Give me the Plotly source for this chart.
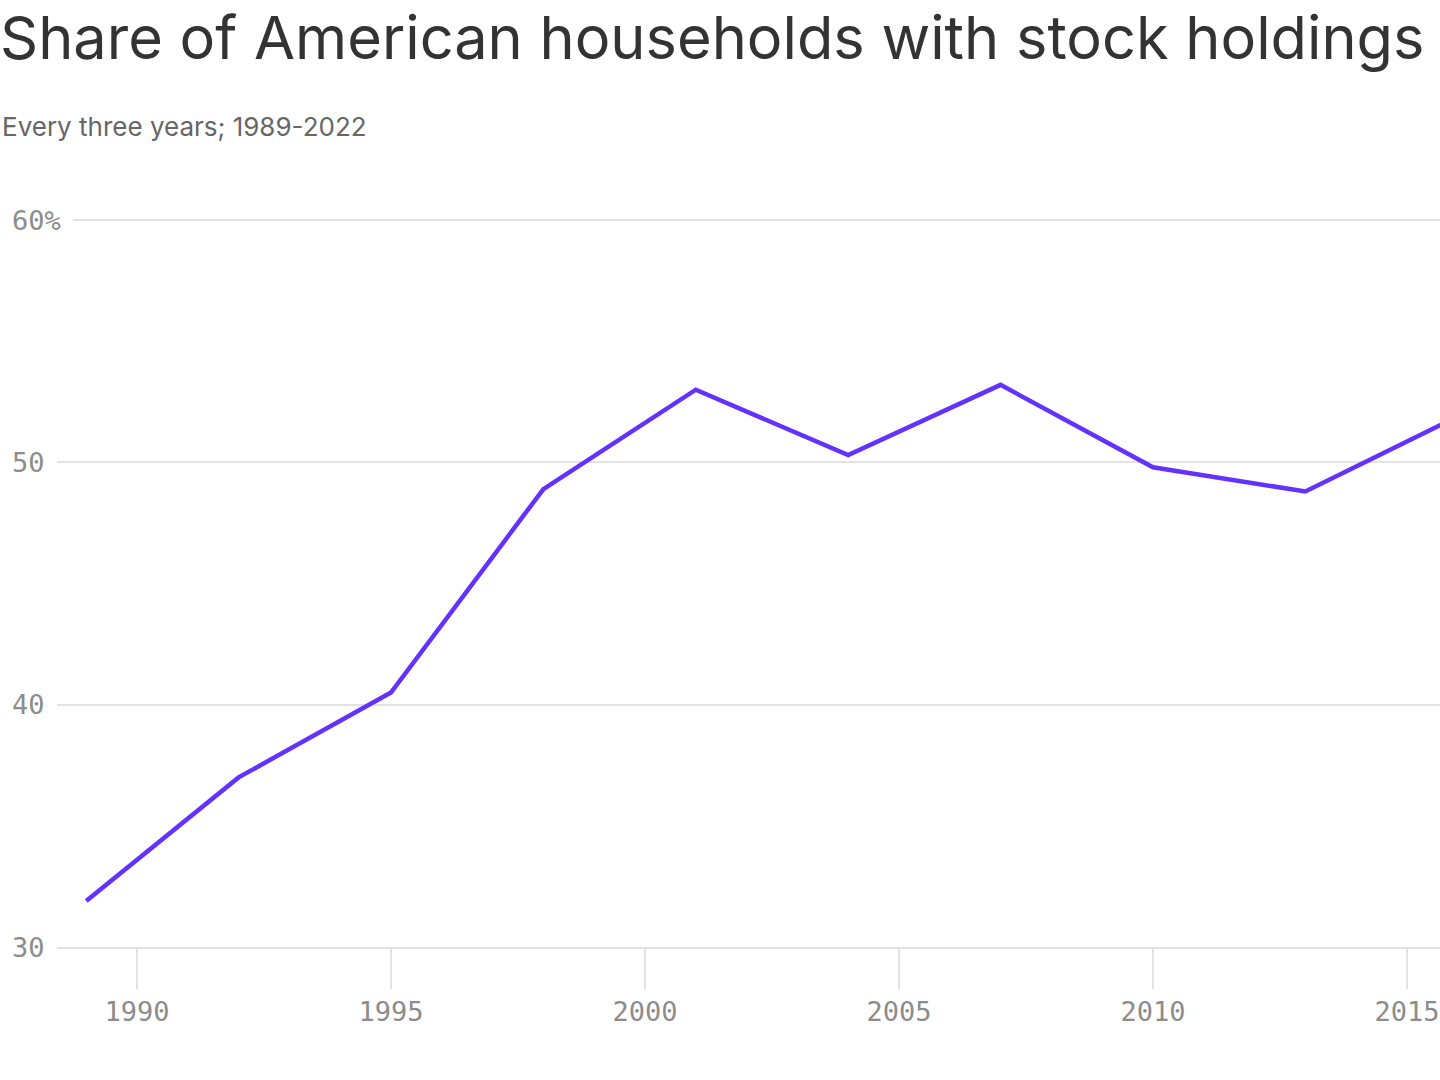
import plotly.graph_objects as go

years = [1989, 1992, 1995, 1998, 2001, 2004, 2007, 2010, 2013, 2016, 2019, 2022]
share = [31.9, 37.0, 40.5, 48.9, 53.0, 50.3, 53.2, 49.8, 48.8, 51.9, 52.6, 58.0]

y_ticks = [30, 40, 50, 60]
y_tick_labels = ["30", "40", "50", "60%"]
x_ticks = [1990, 1995, 2000, 2005, 2010, 2015]
x_tick_labels = ["1990", "1995", "2000", "2005", "2010", "2015"]

title = "Share of American households with stock holdings"
subtitle = "Every three years; 1989-2022"

MONO = "DejaVu Sans Mono"
GRID = "#e3e3e3"
LABEL = "#8c8c8c"

W, H = 1440, 1080
T, B = 208, 133
plot_h = H - T - B

fig = go.Figure()
fig.add_trace(go.Scatter(
    x=years, y=share, mode="lines",
    line=dict(color="#6432ff", width=4.5),
    hoverinfo="skip", showlegend=False,
))

annotations = []
for v, t in zip(y_ticks, y_tick_labels):
    annotations.append(dict(
        x=0, xref="paper", xanchor="left", y=v, yref="y", yanchor="middle",
        text=t, showarrow=False, bgcolor="white", borderpad=12, borderwidth=0,
        font=dict(family=MONO, size=27, color=LABEL),
    ))
annotations.append(dict(
    x=0, xref="paper", xanchor="left", y=1 + (T - 127) / plot_h, yref="paper",
    yanchor="middle", text=subtitle, showarrow=False,
    font=dict(family="Inter", size=26, color="#666666"),
))

fig.update_layout(
    width=W, height=H,
    margin=dict(l=0, r=0, t=T, b=B),
    paper_bgcolor="white", plot_bgcolor="white",
    title=dict(text=title, x=0, xanchor="left", xref="paper",
               y=1 - 38 / H, yanchor="middle", yref="container",
               font=dict(family="Inter", size=59.5, color="#333333")),
    xaxis=dict(
        range=[1987.303, 2015.65], tickvals=x_ticks, ticktext=x_tick_labels,
        ticks="outside", ticklen=40, tickwidth=2, tickcolor=GRID,
        showgrid=False, zeroline=False, showline=True, linecolor=GRID, linewidth=2,
        tickfont=dict(family=MONO, size=27, color=LABEL),
    ),
    yaxis=dict(
        range=[30, 60.5], tickvals=y_ticks, showticklabels=False,
        showgrid=True, gridcolor=GRID, gridwidth=2, zeroline=False, showline=False,
    ),
    annotations=annotations,
)

fig.write_html(
    "out.html",
    config={"displayModeBar": False, "staticPlot": True},
    post_script="document.body.style.margin='0';document.body.style.overflow='hidden';",
)
